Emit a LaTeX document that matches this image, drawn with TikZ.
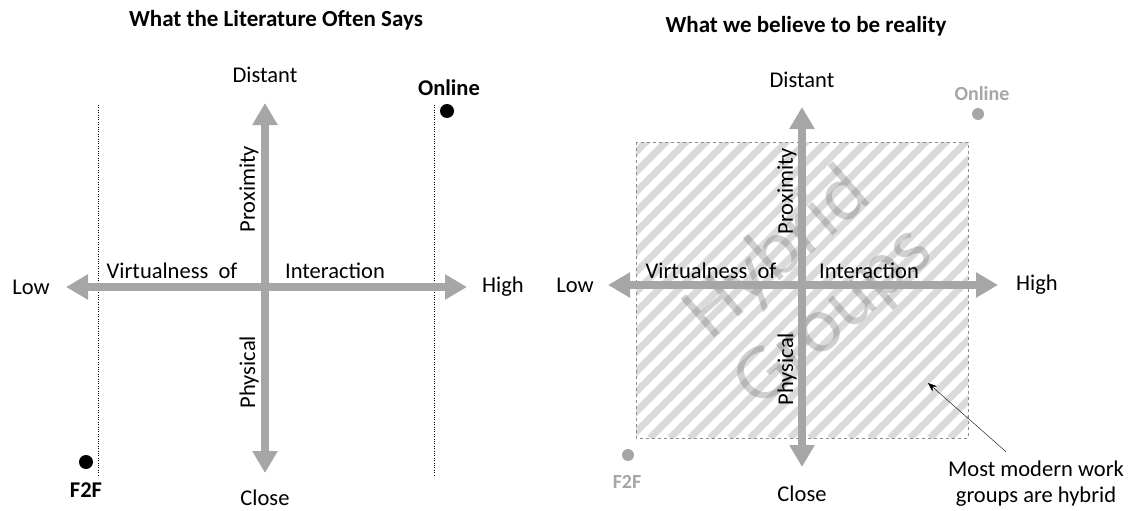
\documentclass[tikz,border=0pt]{standalone}
\usepackage{fontspec}
\setmainfont{Carlito}
\usetikzlibrary{arrows.meta}
\definecolor{axisgray}{HTML}{A6A6A6}
\definecolor{hatchgray}{HTML}{DADADA}
\definecolor{boxgray}{HTML}{8C8C8C}
\tikzset{
  lbl/.style={font=\fontsize{22.5}{26}\selectfont},
  ttl/.style={font=\fontsize{23}{26}\selectfont\bfseries},
  axis/.style={draw=axisgray,line width=8pt,
    {Triangle[width=24pt,length=22pt]}-{Triangle[width=24pt,length=22pt]}},
  dot/.style={circle,fill=black,inner sep=0pt,minimum size=14pt},
}
\begin{document}
\begin{tikzpicture}[x=1pt,y=-1pt]
            \useasboundingbox (0,0) rectangle (1133,511);
            % Left panel
            \node[ttl] (T1) at (276,20){What the Literature Often Says};
            \coordinate (L1) at (66,287);
            \coordinate (R1) at (467,287);
            \coordinate (U1) at (265,103);
            \coordinate (D1) at (265,473);
            \coordinate (FT) at (98,105);
            \coordinate (FB) at (98,477);
            \coordinate (OT) at (434,105);
            \coordinate (OB) at (434,477);
            \path[draw,dotted,thin] (FT) to (FB);
            \path[draw,dotted,thin] (OT) to (OB);
            \path[axis] (L1) to (R1);
            \path[axis] (D1) to (U1);
            \node[lbl] (Dist1) at (265,75){Distant};
            \node[lbl] (Clo1) at (265,498){Close};
            \node[lbl] (Low1) at (31,287){Low};
            \node[lbl] (High1) at (503,287){High};
            \node[lbl] (V1) at (172,271){Virtualness\ \ of};
            \node[lbl] (I1) at (335,271){Interaction};
            \node[lbl,rotate=90] (P1) at (249,189){Proximity};
            \node[lbl,rotate=90] (Ph1) at (249,372){Physical};
            \node[dot] (On1) at (447,111){};
            \node[lbl,font=\fontsize{22.5}{26}\selectfont\bfseries] at (449,88){Online};
            \node[dot] (F1) at (86,462){};
            \node[lbl,font=\fontsize{22.5}{26}\selectfont\bfseries] at (86,490){F2F};
            % Right panel
            \node[ttl] (T2) at (806,26){What we believe to be reality};
            \begin{scope}
              \clip (636,142) rectangle (968,438);
              \fill[white] (636,142) rectangle (968,438);
              \foreach \i in {0,...,34}
                \draw[hatchgray,line width=7pt] (330+\i*20,438) -- ++(300,-300);
            \end{scope}
            \path[draw=boxgray,dashed,thin] (636,142) rectangle (968,438);
            \node[font=\fontsize{80}{84}\selectfont,text=black!60,opacity=0.3,
                  rotate=41,align=center] (HG) at (806,286){Hybrid\\Groups};
            \coordinate (L2) at (608,285);
            \coordinate (R2) at (998,285);
            \coordinate (U2) at (802,107);
            \coordinate (D2) at (802,467);
            \path[axis] (L2) to (R2);
            \path[axis] (D2) to (U2);
            \node[lbl] (Dist2) at (802,80){Distant};
            \node[lbl] (Clo2) at (802,494){Close};
            \node[lbl] (Low2) at (575,285){Low};
            \node[lbl] (High2) at (1037,285){High};
            \node[lbl] (V2) at (711,271){Virtualness\ \ of};
            \node[lbl] (I2) at (869,271){Interaction};
            \node[lbl,rotate=90] (P2) at (787,191){Proximity};
            \node[lbl,rotate=90] (Ph2) at (787,369){Physical};
            \node[dot,fill=axisgray,minimum size=12pt] (On2) at (978,114){};
            \node[lbl,font=\fontsize{20}{24}\selectfont\bfseries,text=axisgray] at (982,94){Online};
            \node[dot,fill=axisgray,minimum size=12pt] (F2) at (628,455){};
            \node[lbl,font=\fontsize{20}{24}\selectfont\bfseries,text=axisgray] at (627,482){F2F};
            \node[lbl,align=center] (Note) at (1036,484){Most modern work\\groups are hybrid};
            \coordinate (NoteTip) at (928,383);
            \path[draw,-{Stealth[length=9pt,width=7pt]},thin] (Note.north) ++(-30,-6) to (NoteTip);
\end{tikzpicture}
\end{document}
